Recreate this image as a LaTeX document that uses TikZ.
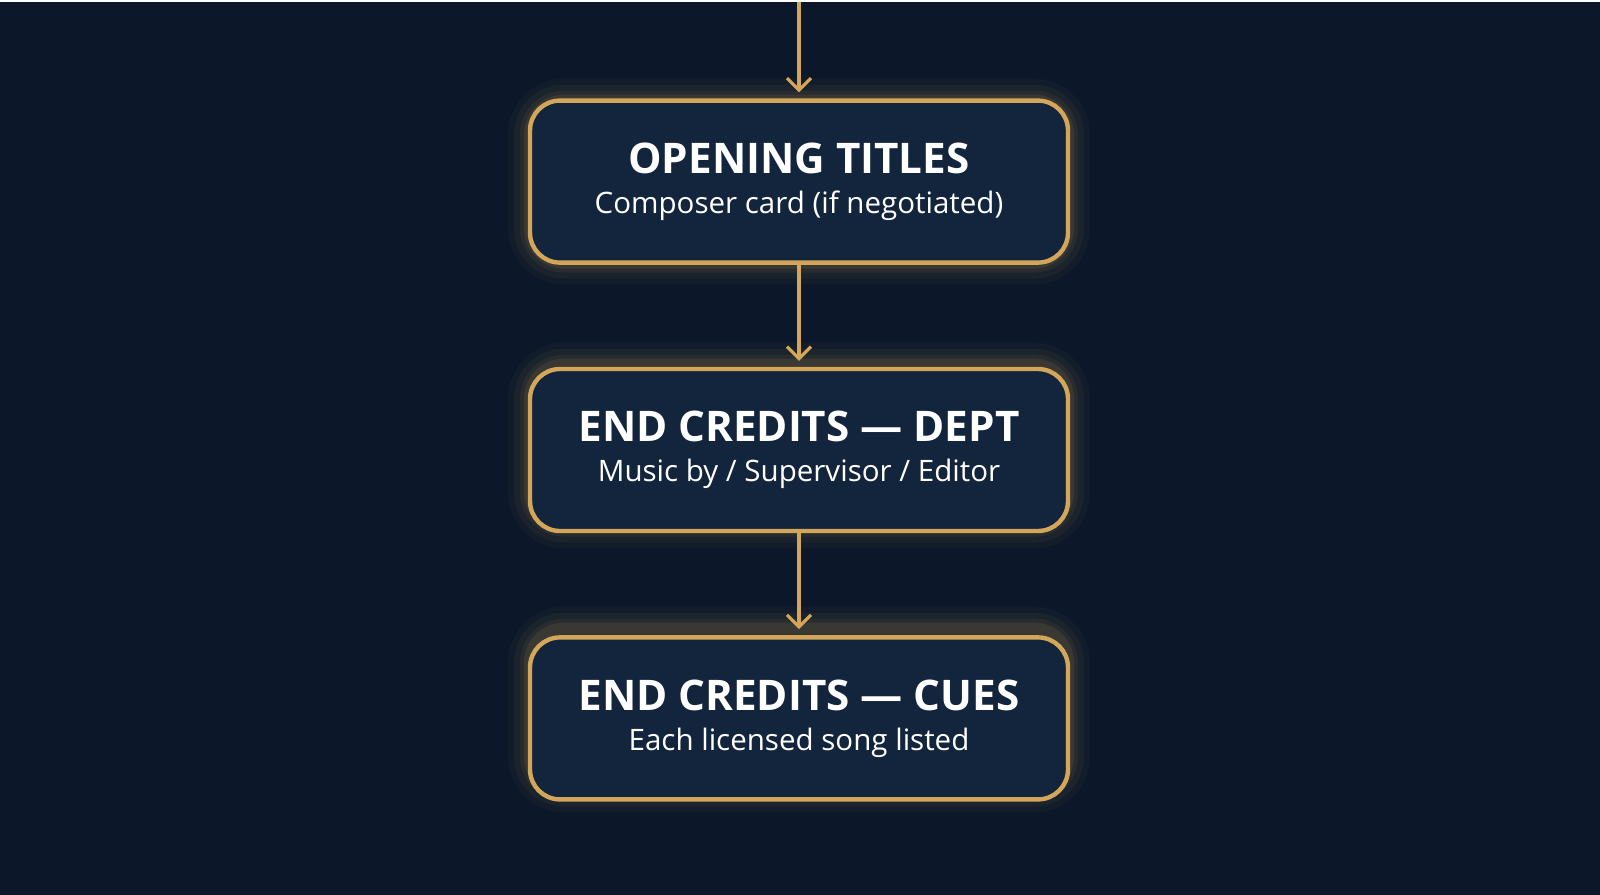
\documentclass[tikz,border=0pt]{standalone}
\usepackage{fontspec}
\setmainfont{Open Sans}
\usetikzlibrary{positioning,arrows.meta}
\definecolor{bgnavy}{HTML}{0C1829}
\definecolor{boxnavy}{HTML}{13253D}
\definecolor{gold}{HTML}{D4A65A}
\begin{document}
\begin{tikzpicture}
    [
        stage box/.style={draw=gold, line width=1.1mm, fill=boxnavy, rounded corners=0.75cm,
            minimum width=13.45cm, minimum height=4.05cm, align=center, text=white, inner sep=0pt},
        flow arrow/.style={draw=gold, line width=0.8mm, -{Straight Barb[length=3mm,width=6mm]}},
        glow/.style={draw=gold, rounded corners=0.85cm, minimum width=13.45cm, minimum height=4.05cm}
    ]
    \fill[bgnavy] (0,0) rectangle (40,-22.325);
    % soft halo behind each card
    \foreach \y in {-4.5,-11.1,-17.7} {
        \foreach \w/\o in {1.1/0.03,0.8/0.05,0.5/0.07,0.3/0.1}
            \node[glow, line width=\w cm, draw opacity=\o] at (19.975,\y) {};
    }
    \node[stage box] (opening) at (19.975,-4.5)
        {{\fontsize{30}{34}\selectfont\bfseries OPENING TITLES}\\[4mm]
         {\fontsize{21}{25}\selectfont Composer card (if negotiated)}};
    \node[stage box, below=2.55cm of opening] (dept)
        {{\fontsize{30}{34}\selectfont\bfseries END CREDITS — DEPT}\\[4mm]
         {\fontsize{21}{25}\selectfont Music by / Supervisor / Editor}};
    \node[stage box, below=2.55cm of dept] (cues)
        {{\fontsize{30}{34}\selectfont\bfseries END CREDITS — CUES}\\[4mm]
         {\fontsize{21}{25}\selectfont Each licensed song listed}};
    \coordinate (entry) at (19.975,0);
    \draw[flow arrow] (entry) -- ([yshift=1.5mm]opening.north);
    \draw[flow arrow] (opening.south) -- ([yshift=1.5mm]dept.north);
    \draw[flow arrow] (dept.south) -- ([yshift=1.5mm]cues.north);
\end{tikzpicture}
\end{document}
